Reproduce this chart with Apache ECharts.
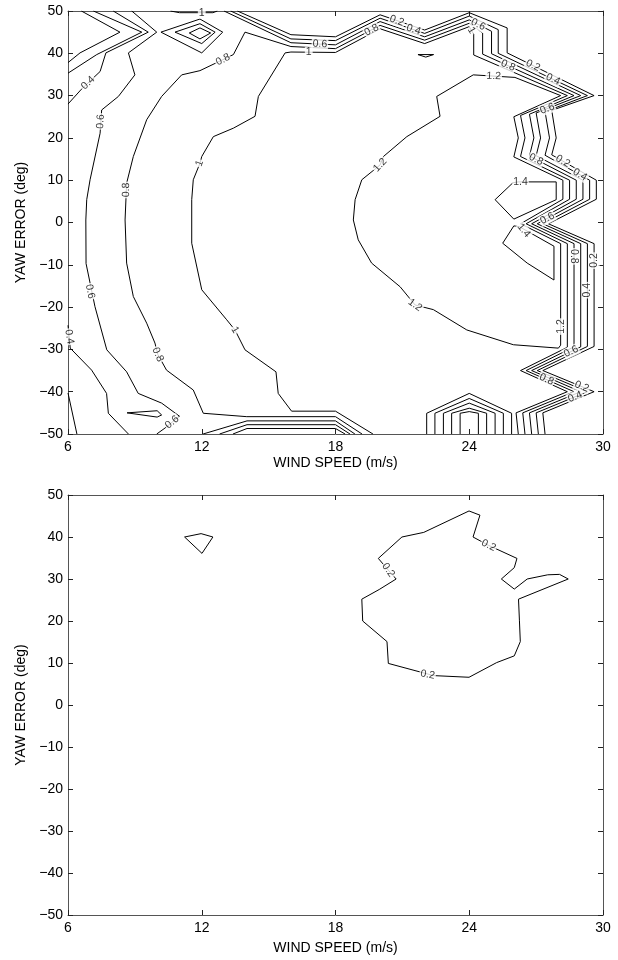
<!DOCTYPE html>
<html><head><meta charset="utf-8">
<script src="https://cdn.jsdelivr.net/npm/echarts@6/dist/echarts.min.js"></script>
<style>html,body{margin:0;padding:0;background:#fff}#c{width:618px;height:960px}</style>
</head><body><div id="c"></div>
<script>
const FONT = '"Liberation Sans", Arial, Helvetica, sans-serif';
const xTicks = [6, 12, 18, 24, 30];
const yTicks = [-50, -40, -30, -20, -10, 0, 10, 20, 30, 40, 50];
const xName = 'WIND SPEED (m/s)';
const yName = 'YAW ERROR (deg)';

// ---------- upper chart: contour lines [wind speed, yaw error] ----------
const top02 = [[13.6,50],[16,44.4],[18,43.9],[20,49.1],[22,45.5],[24,49.6],[25.7,46.0],[25.7,40.1],[29.6,30],[27.7,26.5],[27.9,20],[27.7,16],[29.7,10],[29.7,5.5],[27.55,-0.3],[29.6,-5],[29.6,-29.3],[27.3,-35],[29.6,-40],[27.3,-45],[27.4,-50]];
const top04 = [[13.3,50],[16,43.4],[18,43.0],[20,48.3],[22,44.7],[24,48.8],[25.3,45.6],[25.3,40.0],[29.3,30],[27.4,26.2],[27.6,20],[27.4,15.9],[29.4,10],[29.4,5.5],[27.3,-0.3],[29.3,-5],[29.3,-29.3],[27.05,-35],[29.3,-40],[27.0,-45],[27.1,-50]];
const top06 = [[13.0,50],[16,42.5],[18,42.0],[20,47.5],[22,43.9],[24,47.9],[25.0,45.2],[25.0,39.9],[29.0,30],[27.0,25.9],[27.2,20],[27.0,15.8],[29.1,10],[29.1,5.5],[27.05,-0.3],[29.0,-5],[29.0,-29.4],[26.8,-35],[29.0,-40],[26.7,-45],[26.8,-50]];
const top08 = [[26.5,-50],[26.4,-45],[28.7,-40],[26.55,-35],[28.7,-29.4],[28.7,-5],[26.8,-0.3],[28.8,5.5],[28.8,10],[26.7,15.7],[26.9,20],[26.7,25.6],[28.7,30],[24.6,39.8],[24.6,44.8],[24,47.1],[22,43.1],[20,46.6],[18,41.1],[16,41.6],[13.94,45.0],[13.42,39.7],[12.95,38.5],[11.92,35.9],[11.1,34.9],[10.2,29.8],[9.53,24.3],[8.93,15.6],[8.63,9.3],[8.56,0.6],[8.63,-9.6],[8.93,-17.5],[9.53,-23.8],[9.9,-28.5],[10.03,-31.2],[10.42,-34.9],[11.62,-39.6],[12.07,-45.1],[14.02,-45.9],[18,-45.9],[19.19,-50]];
const top10 = [[26.2,-50],[26.1,-45],[28.4,-40],[26.3,-35],[28.4,-29.5],[28.4,-5],[26.55,-0.3],[28.5,5.5],[28.5,10],[26.3,15.6],[26.5,20],[26.3,25.3],[28.4,30],[24.2,39.6],[24.2,44.5],[24,46.3],[22,42.3],[20,45.8],[18,40.2],[16,40.3],[15.74,40.1],[14.54,29.8],[14.39,25.1],[13.42,22.3],[12.52,20.3],[12.0,15.6],[11.92,14.0],[11.62,10.1],[11.55,5.4],[11.55,-4.9],[12.0,-15.9],[13.12,-23.0],[13.49,-25.4],[13.94,-30.1],[15.33,-35.3],[15.43,-40.4],[16.03,-44.6],[18,-44.6],[19.68,-50]];
const top12 = [[24.18,34.9],[22.54,29.8],[22.69,25.1],[21.2,20.3],[20.15,15.6],[20.0,13.6],[19.18,10.1],[18.88,5.4],[18.8,0.6],[19.02,-4.1],[19.62,-9.6],[20.9,-15.2],[21.57,-19.5],[22.39,-20.6],[23.89,-25.4],[25.98,-28.9],[28.0,-29.7],[28.1,-29.0],[28.1,-5],[26.3,-0.3],[28.2,5.5],[28.2,10],[26.0,15.5],[26.2,20],[26.0,25.0],[28.1,30],[26.05,34.3],[24.18,34.9]];
const top14a = [[25.96,9.4],[26.2,9.6],[27.9,9.6],[27.9,5.4],[26.0,0.8],[25.16,5.4],[25.96,9.4]];
const top14b = [[26.0,-0.8],[25.5,-4.9],[26.6,-9.6],[27.8,-13.6],[27.8,-5.6],[26.25,-1.0],[26.0,-0.8]];
const topEdge10 = [[10.6,50],[11.0,49.6],[12.5,49.6],[12.7,50]];
const topNotch = [[21.7,39.7],[22.4,39.7],[22.05,39.1],[21.7,39.7]];
const topCornerA = [[6.6,50],[8.33,45.0],[6.54,40.1],[6,37.8]];
const topCornerB = [[7.14,50],[9.31,45.0],[7.29,39.7],[6,35.3]];
const topLeft04 = [[8.03,50],[9.6,45.0],[7.7,40.1],[7.44,35.7],[6.6,31.5],[6,28.0]];
const topLeft06 = [[8.86,50],[9.98,45.0],[8.71,40.1],[9.0,34.9],[8.26,29.8],[7.51,26.6],[7.44,21.1],[6.99,10.1],[6.84,5.4],[6.8,0.6],[6.81,-9.7],[7.21,-19.9],[7.74,-30.1],[8.63,-35.3],[9.15,-40.4],[10.2,-42.7],[11.0,-45.8],[10.35,-48.6],[9.98,-50]];
const topLow04 = [[6,-24.3],[6.1,-29.7],[7.06,-34.9],[7.73,-40.4],[7.81,-45.1],[8.71,-50]];
const topLowEdge = [[6,-40.3],[6.4,-50]];
const topTriangle = [[8.65,-45.0],[10.0,-44.5],[10.2,-45.5],[10.0,-46.0],[8.65,-45.0]];
const topDiamond1 = [[10.17,45.0],[11.92,48.1],[12.94,45.0],[12.0,40.1],[10.17,45.0]];
const topDiamond2 = [[10.8,45.0],[11.92,47.0],[12.6,45.0],[12.0,42.3],[10.8,45.0]];
const topDiamond3 = [[11.44,44.8],[11.92,46.0],[12.4,44.8],[11.92,43.4],[11.44,44.8]];
const topFoot06 = [[12.06,-50],[14.03,-46.9],[18,-46.9],[18.87,-50]];
const topFoot04 = [[12.8,-50],[14.03,-47.8],[18,-47.8],[18.65,-50]];
const topFoot02 = [[13.4,-50],[14.03,-48.7],[18,-48.7],[18.43,-50]];
const arch10 = [[22.09,-50],[22.09,-45.1],[24,-40.4],[25.9,-45.1],[25.9,-50]];
const arch08 = [[22.46,-50],[22.46,-45.1],[24,-41.6],[25.53,-45.1],[25.53,-50]];
const arch06 = [[22.84,-50],[22.84,-45.1],[24,-42.7],[25.16,-45.1],[25.16,-50]];
const arch04 = [[23.21,-50],[23.21,-45.1],[24,-43.9],[24.78,-45.1],[24.78,-50]];
const arch02 = [[23.59,-50],[23.59,-45.1],[24,-44.7],[24.41,-45.1],[24.41,-50]];
// contour labels: [x, y, text, angle]
const topLabels = [
  [6.9,33.0,'0.4',43],[7.46,23.9,'0.6',86],[8.61,7.7,'0.8',89],[11.9,14.0,'1',70],
  [12.95,38.5,'0.8',26],[12.0,49.55,'1',0],[17.3,42.2,'0.6',-3],[16.8,40.25,'1',0],
  [19.62,45.5,'0.8',28],[20.75,47.7,'0.2',-19],[21.5,45.6,'0.4',-19],[24.4,46.8,'0.6',-27],
  [24.1,45.4,'1',-60],[25.1,34.6,'1.2',-3],[25.74,37.1,'0.8',-24],[26.86,37.1,'0.2',-26],
  [27.76,33.85,'0.4',-26],[27.5,26.9,'0.6',21],[27.0,14.9,'0.8',-27],[28.2,14.5,'0.2',-30],
  [28.97,11.3,'0.4',-30],[26.3,9.6,'1.4',0],[26.45,-1.9,'1.4',-50],[27.5,1.0,'0.6',28],
  [28.7,-8,'0.8',-90],[29.6,-9,'0.2',90],[29.3,-16,'0.4',90],[28.1,-24.6,'1.2',90],
  [28.57,-30.5,'0.6',26],[27.47,-37.1,'0.8',-24],[29.05,-38.8,'0.2',-22],[28.75,-41.2,'0.4',22],
  [20.0,13.6,'1.2',47],[21.57,-19.5,'1.2',-35],[13.49,-25.4,'1',-58],[10.03,-31.2,'0.8',-67],
  [6.99,-16.3,'0.6',-78],[6.06,-27.0,'0.4',-80],[10.67,-47.2,'0.6',39]
];

// ---------- lower chart ----------
const botSmall = [[11.23,40.0],[11.97,40.8],[12.5,40.0],[12.01,36.1],[11.23,40.0]];
const botLoop = [[23.99,46.2],[24.48,45.2],[24.17,40.0],[24.87,38.0],[26.14,34.9],[26.02,32.7],[25.44,30.0],[26.02,27.6],[26.6,30.0],[27.52,31.0],[28.05,31.1],[28.44,30.0],[26.21,25.2],[26.25,20.2],[26.29,15.1],[26.02,11.7],[25.23,10.1],[23.99,6.6],[22.4,7.0],[20.37,9.9],[20.31,15.1],[19.22,20.0],[19.18,25.2],[19.96,27.5],[20.72,30.0],[20.37,32.1],[19.92,34.9],[20.98,40.0],[21.96,41.1],[23.99,46.2]];
const botLabels = [[24.87,38.0,'0.2',-26],[22.13,7.2,'0.2',-10],[20.37,32.1,'0.2',-55]];

const topLines = [top02,top04,top06,top08,top10,top12,top14a,top14b,topEdge10,topNotch,topCornerA,topCornerB,topLeft04,topLeft06,topLow04,topLowEdge,topTriangle,topDiamond1,topDiamond2,topDiamond3,topFoot06,topFoot04,topFoot02,arch10,arch08,arch06,arch04,arch02];
const botLines = [botSmall, botLoop];

const chart = echarts.init(document.getElementById('c'), null, {renderer: 'canvas'});
const xMin = xTicks[0], xMax = xTicks[xTicks.length-1], xInt = xTicks[1]-xTicks[0];
const yMin = yTicks[0], yMax = yTicks[yTicks.length-1], yInt = yTicks[1]-yTicks[0];
const frame = {show:true, onZero:false, lineStyle:{color:'#555', width:1}};
const tick = {show:true, inside:true, length:5, lineStyle:{color:'#222', width:1}};
function xa(g, pos, main, gap){
  return {type:'value', gridIndex:g, position:pos, min:xMin, max:xMax, interval:xInt,
    axisLine:frame, axisTick:tick, splitLine:{show:false},
    axisLabel:{show:main, color:'#000', fontSize:14, fontFamily:FONT, margin:6},
    name: main ? xName : '', nameLocation:'middle', nameGap:gap,
    nameTextStyle:{color:'#000', fontSize:14, fontFamily:FONT}};
}
function ya(g, pos, main){
  return {type:'value', gridIndex:g, position:pos, min:yMin, max:yMax, interval:yInt,
    axisLine:frame, axisTick:tick, splitLine:{show:false},
    axisLabel:{show:main, color:'#000', fontSize:14, fontFamily:FONT, margin:5,
      formatter: v => String(v).replace('-', '\u2212')},
    name: main ? yName : '', nameLocation:'middle', nameRotate:90, nameGap:36,
    nameTextStyle:{color:'#000', fontSize:14, fontFamily:FONT}};
}
function lineSeries(d, xi, yi){
  return {type:'line', xAxisIndex:xi, yAxisIndex:yi, data:d, showSymbol:false, symbol:'none',
    lineStyle:{color:'#000', width:1}, silent:true, z:2, animation:false};
}
function labelSeries(list, xi, yi){
  return {type:'scatter', xAxisIndex:xi, yAxisIndex:yi, symbolSize:1, silent:true, z:10,
    itemStyle:{color:'rgba(0,0,0,0)'}, animation:false,
    label:{show:true, position:'inside', color:'#000', fontSize:10.5, fontFamily:FONT,
      backgroundColor:'#fff', padding:[0,1]},
    data:list.map(l => ({value:[l[0], l[1]], label:{formatter:l[2], rotate:l[3]}}))};
}
const series = [];
topLines.forEach(d => series.push(lineSeries(d, 0, 0)));
botLines.forEach(d => series.push(lineSeries(d, 2, 2)));
series.push(labelSeries(topLabels, 0, 0));
series.push(labelSeries(botLabels, 2, 2));

chart.setOption({
  animation:false,
  backgroundColor:'#fff',
  grid:[{left:68, top:11, width:535, height:423},{left:68, top:495, width:535, height:420}],
  xAxis:[xa(0,'bottom',true,22), xa(0,'top',false,0), xa(1,'bottom',true,26), xa(1,'top',false,0)],
  yAxis:[ya(0,'left',true), ya(0,'right',false), ya(1,'left',true), ya(1,'right',false)],
  series: series
});
</script>
</body></html>
